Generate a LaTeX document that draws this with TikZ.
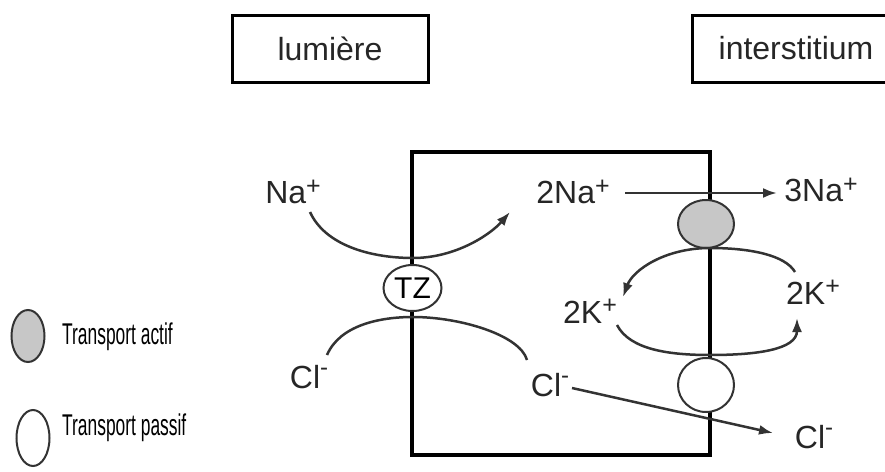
\documentclass[tikz,border=0pt]{standalone}
\usepackage{fontspec}
\usepackage{graphicx}
\setmainfont{Liberation Sans}
\usetikzlibrary{arrows.meta,shapes.geometric}
\newcommand\ionplus{\raisebox{0.3em}{\fontsize{25}{25}\selectfont +}}
\newcommand\ionminus{\raisebox{0.42em}{\fontsize{24}{24}\selectfont -}}
\begin{document}
\begin{tikzpicture}[x=1pt,y=-1pt,
  lbl/.style={font=\fontsize{32}{36}\selectfont, text=black!85, inner sep=0pt},
  titlebox/.style={draw, line width=3pt, rectangle, minimum height=67pt, inner sep=0pt,
    font=\fontsize{32}{36}\selectfont, text=black!85},
  cellbox/.style={draw, line width=3.2pt, rectangle, inner sep=0pt},
  pump/.style={ellipse, draw=black!80, line width=2pt, inner sep=0pt, fill=white},
  curve/.style={draw=black!80, line width=2.5pt},
  arr/.style={-{Latex[length=14pt,width=10pt]}},
  legtxt/.style={anchor=west, inner sep=0pt, font=\fontsize{30}{34}\selectfont}
]
\useasboundingbox (0,0) rectangle (885,471);

% title boxes
\node[titlebox, minimum width=196pt] (lum) at (330,48.5) {lumière};
\node[titlebox, minimum width=208pt] (int) at (796,48.5) {interstitium};

% cell
\node[cellbox, minimum width=298pt, minimum height=303pt] (cell) at (561,303.5) {};

% transporters
\node[pump, minimum width=58pt, minimum height=46pt, font=\fontsize{30}{34}\selectfont] (tz) at (412.5,288) {TZ};
\node[pump, fill=black!22, minimum width=56pt, minimum height=48pt] (atp) at (706,224) {};
\node[pump, minimum width=56pt, minimum height=54pt] (clc) at (706,385) {};

% labels
\node[lbl] (na) at (293,192) {Na\ionplus};
\node[lbl] (na2) at (573,192) {2Na\ionplus};
\node[lbl] (na3) at (821,190) {3Na\ionplus};
\node[lbl] (k1) at (590,311) {2K\ionplus};
\node[lbl] (k2) at (813,292) {2K\ionplus};
\node[lbl] (cl1) at (309,377) {Cl\ionminus};
\node[lbl] (cl2) at (550,385) {Cl\ionminus};
\node[lbl] (cl3) at (814,437) {Cl\ionminus};

% curve end points
\coordinate (naS) at (310,212);
\coordinate (naB) at (413,258);
\coordinate (naE) at (510,212);
\coordinate (clS) at (327,355);
\coordinate (clT) at (413,317);
\coordinate (clE) at (527,360);
\coordinate (pB) at (710,248);
\coordinate (kL) at (623,297);
\coordinate (kR) at (795,272);
\coordinate (lS) at (617,325);
\coordinate (lB) at (710,355);
\coordinate (lE) at (797,318);
\coordinate (naA) at (625,193);
\coordinate (naZ) at (777,193);
\coordinate (clA) at (572,388);
\coordinate (clZ) at (773,433);

% connectors
\draw[curve, arr] (naS) .. controls (325,245) and (370,258) .. (naB)
  .. controls (455,258) and (490,235) .. (naE);
\draw[curve] (clS) .. controls (340,325) and (380,317) .. (clT)
  .. controls (460,317) and (520,335) .. (clE);
\draw[curve, arr] (naA) -- (naZ);
\draw[curve, arr] (pB) .. controls (665,248) and (633,270) .. (kL);
\draw[curve] (pB) .. controls (750,248) and (785,255) .. (kR);
\draw[curve] (lS) .. controls (630,350) and (670,355) .. (lB);
\draw[curve, arr] (lB) .. controls (755,355) and (797,350) .. (lE);
\draw[curve, arr] (clA) -- (clZ);

% legend
\node[pump, fill=black!22, minimum width=33pt, minimum height=52pt] (legA) at (28,336) {};
\node[pump, minimum width=33pt, minimum height=56pt] (legP) at (33,438) {};
\node[legtxt] (legAt) at (62,337) {\scalebox{0.58}[1]{Transport actif}};
\node[legtxt] (legPt) at (62,428) {\scalebox{0.58}[1]{Transport passif}};
\end{tikzpicture}
\end{document}
